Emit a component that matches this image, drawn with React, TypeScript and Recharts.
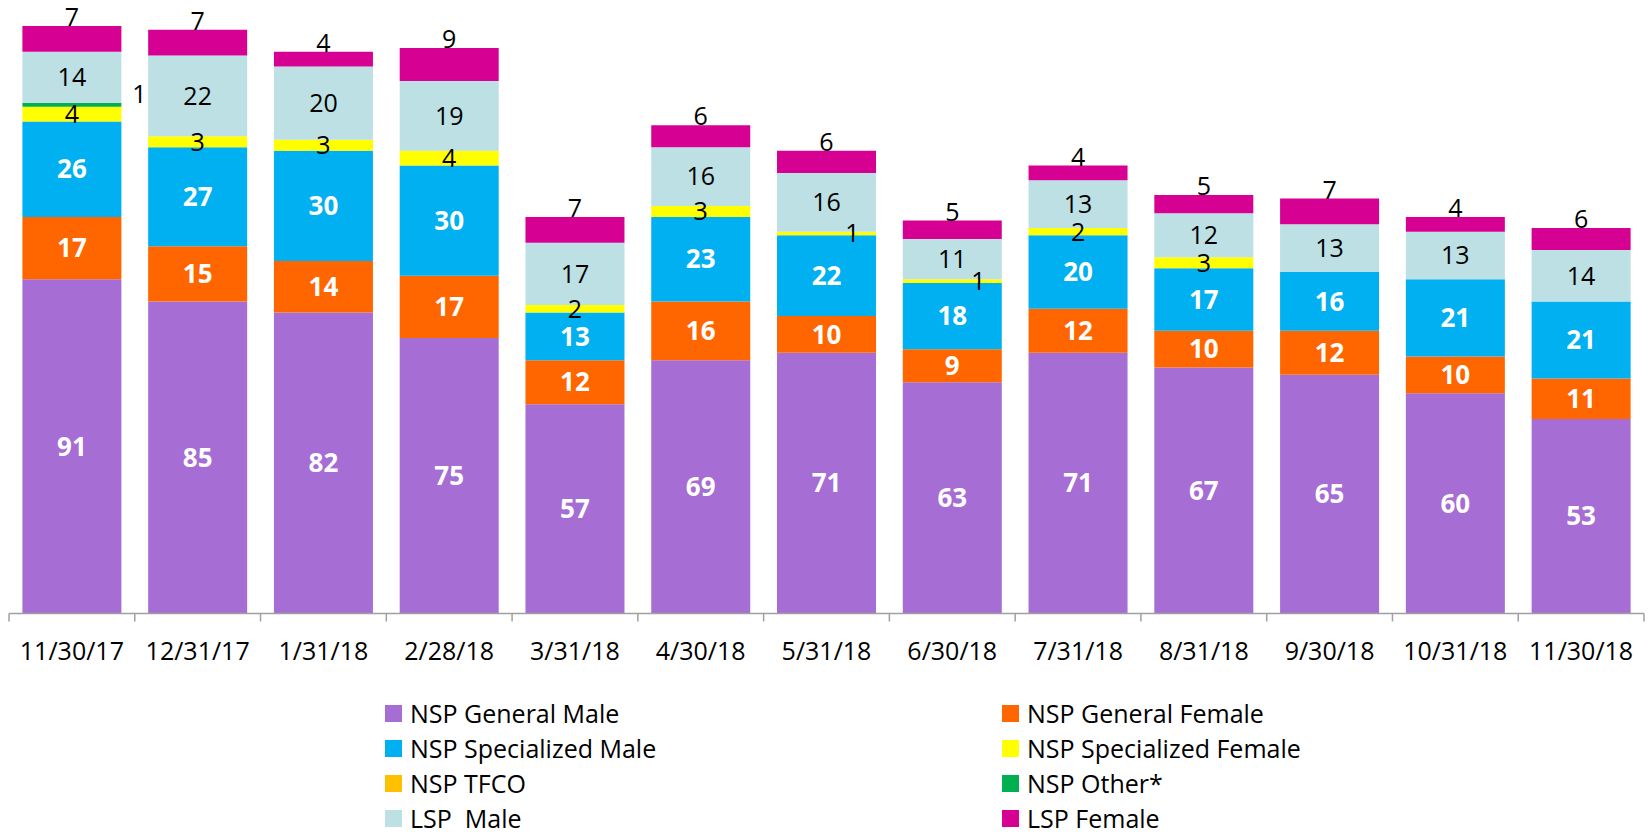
import React from 'react';
import { BarChart, Bar, XAxis, YAxis, Legend, LabelList } from 'recharts';

const categories = ['11/30/17', '12/31/17', '1/31/18', '2/28/18', '3/31/18', '4/30/18', '5/31/18', '6/30/18', '7/31/18', '8/31/18', '9/30/18', '10/31/18', '11/30/18'];
const nspGeneralMale = [91, 85, 82, 75, 57, 69, 71, 63, 71, 67, 65, 60, 53];
const nspGeneralFemale = [17, 15, 14, 17, 12, 16, 10, 9, 12, 10, 12, 10, 11];
const nspSpecializedMale = [26, 27, 30, 30, 13, 23, 22, 18, 20, 17, 16, 21, 21];
const nspSpecializedFemale = [4, 3, 3, 4, 2, 3, 1, 1, 2, 3, 0, 0, 0];
const nspTfco = [0, 0, 0, 0, 0, 0, 0, 0, 0, 0, 0, 0, 0];
const nspOther = [1, 0, 0, 0, 0, 0, 0, 0, 0, 0, 0, 0, 0];
const lspMale = [14, 22, 20, 19, 17, 16, 16, 11, 13, 12, 13, 13, 14];
const lspFemale = [7, 7, 4, 9, 7, 6, 6, 5, 4, 5, 7, 4, 6];

const data = categories.map((date, i) => ({
  date,
  gm: nspGeneralMale[i],
  gf: nspGeneralFemale[i],
  sm: nspSpecializedMale[i],
  sf: nspSpecializedFemale[i],
  tf: nspTfco[i],
  ot: nspOther[i],
  lm: lspMale[i],
  lf: lspFemale[i],
}));

const FONT = '"Open Sans", "Noto Sans", sans-serif';
const W = 1651;
const H = 832;
const MARGIN = { top: 26, right: 7, bottom: 158.5, left: 9 };
const STEP = (W - MARGIN.left - MARGIN.right) / categories.length;
const AXIS_COLOR = '#A0A0A0';

const series = [
  { key: 'gm', name: 'NSP General Male', color: '#A66DD4' },
  { key: 'gf', name: 'NSP General Female', color: '#FF6600' },
  { key: 'sm', name: 'NSP Specialized Male', color: '#00B0F0' },
  { key: 'sf', name: 'NSP Specialized Female', color: '#FFFF00' },
  { key: 'tf', name: 'NSP TFCO', color: '#FFC000' },
  { key: 'ot', name: 'NSP Other*', color: '#00B050' },
  { key: 'lm', name: 'LSP  Male', color: '#BCE0E3' },
  { key: 'lf', name: 'LSP Female', color: '#D60093' },
];
const legendOrder = ['gm', 'gf', 'sm', 'sf', 'tf', 'ot', 'lm', 'lf'];

function getBox(p: any) {
  const vb = p.viewBox && p.viewBox.width !== undefined ? p.viewBox : p;
  let { x, y, width, height } = vb;
  x = Number(x); y = Number(y); width = Number(width); height = Number(height);
  if (height < 0) { y = y + height; height = -height; }
  return { x, y, width, height };
}

const centerLabel = (color: string, weight: number, size: number, nudgeOnes = false) => (p: any) => {
  const v = Number(p.value);
  if (!v) return null;
  const { x, y, width, height } = getBox(p);
  let cx = x + width / 2;
  if (nudgeOnes && v === 1) cx += 26;
  const cy = y + height / 2;
  return (
    <text x={cx} y={cy + 0.357 * size} textAnchor="middle" fill={color} fontSize={size} fontWeight={weight} fontFamily={FONT}>
      {v}
    </text>
  );
};

const sideLabel = (p: any) => {
  const v = Number(p.value);
  if (!v) return null;
  const { x, y, width, height } = getBox(p);
  const size = 25;
  const cx = x + width + 18;
  const cy = y + height / 2 - 11;
  return (
    <text x={cx} y={cy + 0.357 * size} textAnchor="middle" fill="#000" fontSize={size} fontFamily={FONT}>
      {v}
    </text>
  );
};

const topLabel = (p: any) => {
  const v = Number(p.value);
  if (!v) return null;
  const { x, y, width } = getBox(p);
  return (
    <text x={x + width / 2} y={y} textAnchor="middle" fill="#000" fontSize={25} fontFamily={FONT}>
      {v}
    </text>
  );
};

const AxisTick = (p: any) => {
  const { x, y, payload, index } = p;
  const left = x - STEP / 2;
  const right = x + STEP / 2;
  return (
    <g>
      <line x1={left} x2={left} y1={y} y2={y + 8} stroke={AXIS_COLOR} strokeWidth={1.5} />
      {index === categories.length - 1 ? (
        <line x1={right} x2={right} y1={y} y2={y + 8} stroke={AXIS_COLOR} strokeWidth={1.5} />
      ) : null}
      <text x={x} y={y + 46} textAnchor="middle" fill="#000" fontSize={25} fontFamily={FONT}>
        {payload.value}
      </text>
    </g>
  );
};

const LegendContent = () => (
  <div
    style={{
      display: 'grid',
      gridTemplateColumns: '617px auto',
      fontFamily: FONT,
      fontSize: 25,
      color: '#000',
    }}
  >
    {legendOrder.map((k) => {
      const s = series.find((q) => q.key === k)!;
      return (
        <div key={k} style={{ display: 'flex', alignItems: 'center', height: 35 }}>
          <span style={{ width: 17, height: 17, background: s.color, marginRight: 8, flex: 'none' }} />
          <span style={{ whiteSpace: 'pre', lineHeight: '35px' }}>{s.name}</span>
        </div>
      );
    })}
  </div>
);

export default function App() {
  return (
    <div style={{ position: 'absolute', left: 0, top: 0, width: W, height: H, background: '#fff' }}>
      <BarChart width={W} height={H} data={data} margin={MARGIN} barCategoryGap="10.65%">
        <XAxis
          dataKey="date"
          height={60}
          interval={0}
          tickSize={0}
          tickMargin={0}
          tickLine={false}
          axisLine={{ stroke: AXIS_COLOR, strokeWidth: 1.5 }}
          tick={<AxisTick />}
        />
        <YAxis hide domain={[0, 160]} allowDataOverflow />
        <Legend
          layout="horizontal"
          verticalAlign="middle"
          align="center"
          content={<LegendContent />}
          wrapperStyle={{ position: 'absolute', top: 696, left: 385, width: 1000, height: 140 }}
        />
        <Bar dataKey="gm" name="NSP General Male" stackId="a" fill="#A66DD4" isAnimationActive={false}>
          <LabelList dataKey="gm" content={centerLabel('#fff', 700, 26)} />
        </Bar>
        <Bar dataKey="gf" name="NSP General Female" stackId="a" fill="#FF6600" isAnimationActive={false}>
          <LabelList dataKey="gf" content={centerLabel('#fff', 700, 26)} />
        </Bar>
        <Bar dataKey="sm" name="NSP Specialized Male" stackId="a" fill="#00B0F0" isAnimationActive={false}>
          <LabelList dataKey="sm" content={centerLabel('#fff', 700, 26)} />
        </Bar>
        <Bar dataKey="sf" name="NSP Specialized Female" stackId="a" fill="#FFFF00" isAnimationActive={false}>
          <LabelList dataKey="sf" content={centerLabel('#000', 400, 25, true)} />
        </Bar>
        <Bar dataKey="tf" name="NSP TFCO" stackId="a" fill="#FFC000" isAnimationActive={false} />
        <Bar dataKey="ot" name="NSP Other*" stackId="a" fill="#00B050" isAnimationActive={false}>
          <LabelList dataKey="ot" content={sideLabel} />
        </Bar>
        <Bar dataKey="lm" name="LSP  Male" stackId="a" fill="#BCE0E3" isAnimationActive={false}>
          <LabelList dataKey="lm" content={centerLabel('#000', 400, 25)} />
        </Bar>
        <Bar dataKey="lf" name="LSP Female" stackId="a" fill="#D60093" isAnimationActive={false}>
          <LabelList dataKey="lf" content={topLabel} />
        </Bar>
      </BarChart>
    </div>
  );
}
